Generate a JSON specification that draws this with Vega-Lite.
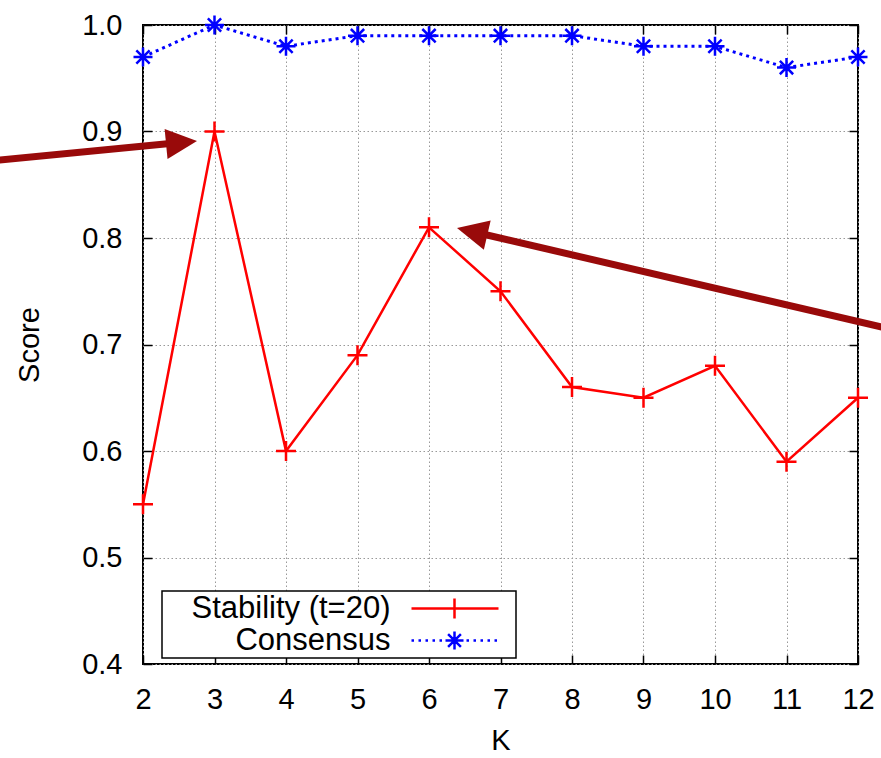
{
  "$schema": "https://vega.github.io/schema/vega-lite/v6.json",
  "width": 715,
  "height": 639,
  "autosize": {"type": "none"},
  "padding": {"left": 143, "top": 25, "right": 23, "bottom": 94},
  "background": "white",
  "config": {
    "font": "Liberation Sans",
    "view": {"stroke": "black", "strokeWidth": 2},
    "axis": {
      "labelFont": "Liberation Sans",
      "labelFontSize": 29,
      "labelColor": "black",
      "titleFont": "Liberation Sans",
      "titleFontSize": 29,
      "titleFontWeight": "normal",
      "titleColor": "black",
      "domain": false,
      "tickColor": "black",
      "tickWidth": 1.5,
      "tickSize": -9,
      "gridColor": "#999999",
      "gridDash": [1.5, 2.5],
      "gridWidth": 1
    }
  },
  "datasets": {
    "scores": [
      {"K": 2, "Score": 0.55, "series": "Stability (t=20)"},
      {"K": 3, "Score": 0.90, "series": "Stability (t=20)"},
      {"K": 4, "Score": 0.60, "series": "Stability (t=20)"},
      {"K": 5, "Score": 0.69, "series": "Stability (t=20)"},
      {"K": 6, "Score": 0.81, "series": "Stability (t=20)"},
      {"K": 7, "Score": 0.75, "series": "Stability (t=20)"},
      {"K": 8, "Score": 0.66, "series": "Stability (t=20)"},
      {"K": 9, "Score": 0.65, "series": "Stability (t=20)"},
      {"K": 10, "Score": 0.68, "series": "Stability (t=20)"},
      {"K": 11, "Score": 0.59, "series": "Stability (t=20)"},
      {"K": 12, "Score": 0.65, "series": "Stability (t=20)"},
      {"K": 2, "Score": 0.97, "series": "Consensus"},
      {"K": 3, "Score": 1.00, "series": "Consensus"},
      {"K": 4, "Score": 0.98, "series": "Consensus"},
      {"K": 5, "Score": 0.99, "series": "Consensus"},
      {"K": 6, "Score": 0.99, "series": "Consensus"},
      {"K": 7, "Score": 0.99, "series": "Consensus"},
      {"K": 8, "Score": 0.99, "series": "Consensus"},
      {"K": 9, "Score": 0.98, "series": "Consensus"},
      {"K": 10, "Score": 0.98, "series": "Consensus"},
      {"K": 11, "Score": 0.96, "series": "Consensus"},
      {"K": 12, "Score": 0.97, "series": "Consensus"}
    ],
    "arrows": [
      {"arrow": "a", "tailK": -0.14, "tailScore": 0.8723, "baseK": 2.449, "baseScore": 0.8891, "tipK": 2.755, "tipScore": 0.8911},
      {"arrow": "b", "tailK": 12.462, "tailScore": 0.7143, "baseK": 6.691, "baseScore": 0.8047, "tipK": 6.392, "tipScore": 0.8094}
    ]
  },
  "resolve": {"axis": {"x": "independent", "y": "independent"}},
  "layer": [
    {
      "data": {"name": "scores"},
      "transform": [{"filter": "datum.series === 'Stability (t=20)'"}],
      "mark": {"type": "line", "strokeWidth": 2.5},
      "encoding": {
        "x": {
          "field": "K", "type": "quantitative",
          "scale": {"domain": [2, 12], "nice": false, "zero": false},
          "axis": {"orient": "bottom", "values": [2,3,4,5,6,7,8,9,10,11,12], "grid": true, "title": "K", "labelPadding": 30, "titlePadding": 12, "labelFlush": false}
        },
        "y": {
          "field": "Score", "type": "quantitative",
          "scale": {"domain": [0.4, 1.0], "nice": false, "zero": false},
          "axis": {"orient": "left", "values": [0.4,0.5,0.6,0.7,0.8,0.9,1.0], "format": ".1f", "grid": true, "title": "Score", "labelPadding": 30, "titlePadding": 37, "labelFlush": false}
        },
        "color": {
          "field": "series", "type": "nominal",
          "scale": {"domain": ["Stability (t=20)", "Consensus"], "range": ["#ff0000", "#0000ff"]},
          "legend": {
            "orient": "none",
            "legendX": 19,
            "legendY": 566,
            "title": null,
            "padding": 2,
            "strokeColor": "black",
            "fillColor": "white",
            "labelFont": "Liberation Sans",
            "labelFontSize": 31,
            "labelColor": "black",
            "labelAlign": "right",
            "labelOffset": 195.5,
            "labelLimit": 0,
            "symbolSize": 400,
            "symbolStrokeWidth": 2.5,
            "rowPadding": 0,
            "encode": {
              "legend": {"update": {"strokeWidth": {"value": 1.5}}},
              "symbols": {
                "update": {
                  "shape": {"signal": "datum.value === 'Consensus' ? 'M23.2,0L23.45,0M23.9,0L24.15,0M24.6,0L24.85,0M25.3,0L25.55,0M26.0,0L26.25,0M26.6,0L28.4,0M27.5,-0.9L27.5,0.9M26.86,-0.64L28.14,0.64M26.86,0.64L28.14,-0.64M28.7,0L28.95,0M29.4,0L29.65,0M30.1,0L30.35,0M30.8,0L31.05,0M31.5,0L31.75,0M32.9,0' : 'M23.2,0L31.9,0M27.5,-1L27.5,1M32.9,0'"},
                  "size": {"value": 400},
                  "strokeWidth": {"value": 2.5},
                  "fill": {"value": "transparent"},
                  "strokeDash": {"value": [100, 0]},
                  "opacity": {"value": 1}
                }
              }
            }
          }
        }
      }
    },
    {
      "data": {"name": "scores"},
      "transform": [{"filter": "datum.series === 'Consensus'"}],
      "mark": {"type": "line", "strokeWidth": 3, "strokeDash": [3, 4]},
      "encoding": {
        "x": {
          "field": "K", "type": "quantitative",
          "axis": {"orient": "top", "values": [2,3,4,5,6,7,8,9,10,11,12], "grid": false, "labels": false, "title": null}
        },
        "y": {
          "field": "Score", "type": "quantitative",
          "axis": {"orient": "right", "values": [0.4,0.5,0.6,0.7,0.8,0.9,1.0], "grid": false, "labels": false, "title": null}
        },
        "color": {"field": "series", "type": "nominal"}
      }
    },
    {
      "data": {"name": "scores"},
      "transform": [{"filter": "datum.series === 'Stability (t=20)'"}],
      "mark": {"type": "point", "shape": "M-1,0L1,0M0,-1L0,1", "size": 400, "strokeWidth": 2.5, "filled": false, "color": "#ff0000", "opacity": 1},
      "encoding": {
        "x": {"field": "K", "type": "quantitative", "axis": null},
        "y": {"field": "Score", "type": "quantitative", "axis": null}
      }
    },
    {
      "data": {"name": "scores"},
      "transform": [{"filter": "datum.series === 'Consensus'"}],
      "mark": {"type": "point", "shape": "M-1,0L1,0M0,-1L0,1M-0.7,-0.7L0.7,0.7M-0.7,0.7L0.7,-0.7", "size": 361, "strokeWidth": 2.5, "filled": false, "color": "#0000ff", "opacity": 1},
      "encoding": {
        "x": {"field": "K", "type": "quantitative", "axis": null},
        "y": {"field": "Score", "type": "quantitative", "axis": null}
      }
    },
    {
      "data": {"name": "arrows"},
      "mark": {"type": "rule", "color": "#990a0a", "strokeWidth": 7},
      "encoding": {
        "x": {"field": "tailK", "type": "quantitative", "axis": null},
        "y": {"field": "tailScore", "type": "quantitative", "axis": null},
        "x2": {"field": "baseK"},
        "y2": {"field": "baseScore"}
      }
    },
    {
      "data": {"name": "arrows"},
      "transform": [{"filter": "datum.arrow === 'a'"}],
      "mark": {"type": "point", "shape": "M0,0L-1,2.07L1,2.07Z", "size": 900, "angle": 84.5, "filled": true, "color": "#990a0a", "opacity": 1, "strokeWidth": 0},
      "encoding": {
        "x": {"field": "tipK", "type": "quantitative", "axis": null},
        "y": {"field": "tipScore", "type": "quantitative", "axis": null}
      }
    },
    {
      "data": {"name": "arrows"},
      "transform": [{"filter": "datum.arrow === 'b'"}],
      "mark": {"type": "point", "shape": "M0,0L-1,2.07L1,2.07Z", "size": 900, "angle": 283.1, "filled": true, "color": "#990a0a", "opacity": 1, "strokeWidth": 0},
      "encoding": {
        "x": {"field": "tipK", "type": "quantitative", "axis": null},
        "y": {"field": "tipScore", "type": "quantitative", "axis": null}
      }
    }
  ]
}
